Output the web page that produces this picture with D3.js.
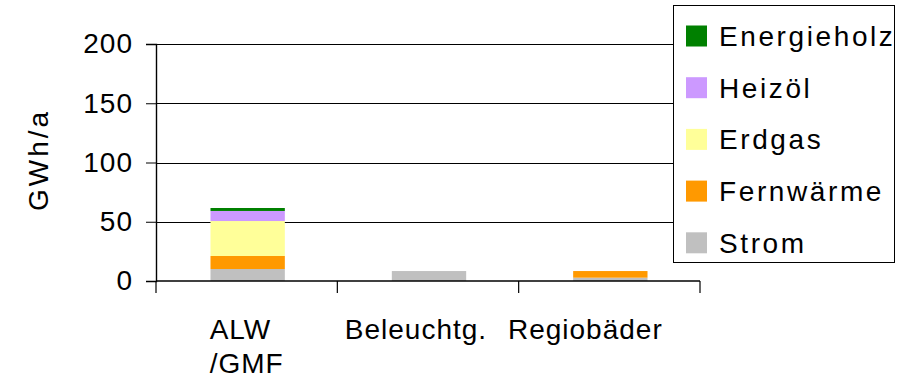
<!DOCTYPE html>
<html>
<head>
<meta charset="utf-8">
<script src="https://cdn.jsdelivr.net/npm/d3@7"></script>
<style>
  html, body { margin: 0; padding: 0; background: #fff; }
  svg { display: block; font-family: "Liberation Sans", Arial, sans-serif; }
</style>
</head>
<body>
<svg id="chart" width="902" height="382"></svg>
<script>
// Energy use by consumer group (GWh per year)
const categories = [["ALW", "/GMF"], ["Beleuchtg."], ["Regiobäder"]];
const seriesNames = ["Strom", "Fernwärme", "Erdgas", "Heizöl", "Energieholz"];
const strom       = [10.1, 8.4, 2.8];
const fernwaerme  = [11.0, 0, 5.6];
const erdgas      = [29.5, 0, 0];
const heizoel     = [8.5, 0, 0];
const energieholz = [2.5, 0, 0];
const yTicks = [0, 50, 100, 150, 200];
const colors = ["#C0C0C0", "#FF9900", "#FFFF99", "#CC99FF", "#008000"];

const rows = categories.map((c, i) => ({
  key: c.join(" "),
  lines: c,
  Strom: strom[i],
  "Fernwärme": fernwaerme[i],
  Erdgas: erdgas[i],
  "Heizöl": heizoel[i],
  Energieholz: energieholz[i]
}));

const svg = d3.select("#chart");
const plotLeft = 156, plotRight = 700, plotTop = 44, plotBottom = 281;
const fontSize = 28;

const x = d3.scaleBand().domain(rows.map(d => d.key)).range([plotLeft, plotRight]).paddingInner(0).paddingOuter(0);
const y = d3.scaleLinear().domain([0, 200]).range([plotBottom, plotTop]);
const color = d3.scaleOrdinal().domain(seriesNames).range(colors);

// horizontal gridlines
svg.append("g").selectAll("line").data(yTicks.filter(t => t > 0)).join("line")
  .attr("x1", plotLeft).attr("x2", plotRight)
  .attr("y1", d => Math.round(y(d)) + 0.5).attr("y2", d => Math.round(y(d)) + 0.5)
  .attr("stroke", "#000").attr("stroke-width", 1);

// stacked bars
const stacked = d3.stack().keys(seriesNames)(rows);
const barW = x.bandwidth() * 0.41;
svg.append("g").selectAll("g").data(stacked).join("g")
  .attr("fill", d => color(d.key))
  .selectAll("rect").data(d => d).join("rect")
  .attr("x", d => x(d.data.key) + (x.bandwidth() - barW) / 2 + 1)
  .attr("width", barW)
  .attr("y", d => y(d[1]))
  .attr("height", d => y(d[0]) - y(d[1]));

// y axis
const yAxis = d3.axisLeft(y).tickValues(yTicks).tickSize(10).tickPadding(13);
const gy = svg.append("g").attr("transform", `translate(${plotLeft},0)`).call(yAxis);
gy.select(".domain").attr("stroke", "#000").attr("stroke-width", 1.4);
gy.selectAll(".tick line").attr("stroke", "#000");
gy.selectAll(".tick text").attr("font-size", fontSize).attr("fill", "#000")
  .attr("letter-spacing", 1)
  .attr("font-family", "Liberation Sans, Arial, sans-serif");

// x axis with ticks at category boundaries
svg.append("line").attr("x1", plotLeft).attr("x2", plotRight)
  .attr("y1", plotBottom).attr("y2", plotBottom).attr("stroke", "#000").attr("stroke-width", 1.6);
const bounds = x.domain().map(k => x(k)).concat([plotRight]);
svg.append("g").selectAll("line").data(bounds).join("line")
  .attr("x1", d => d).attr("x2", d => d)
  .attr("y1", plotBottom).attr("y2", plotBottom + 12)
  .attr("stroke", "#000").attr("stroke-width", 1.2);

// category labels: left-aligned line block, laid out left to right with
// a fixed gap once a label would crowd its neighbour
const lab = svg.append("g").attr("font-size", fontSize).attr("fill", "#000")
  .attr("letter-spacing", 1);
rows.forEach((r, idx) => {
  const g = lab.append("g");
  const texts = r.lines.map((ln, i) => g.append("text").attr("y", 339 + i * 34).text(ln));
  const w = d3.max(texts, t => t.node().getComputedTextLength());
  const x0 = x(r.key) + x.bandwidth() / 2 - w / 2 - idx * 12;
  texts.forEach(t => t.attr("x", x0));
});

// y axis title
svg.append("text")
  .attr("transform", "translate(48,160) rotate(-90)")
  .attr("text-anchor", "middle").attr("font-size", fontSize).attr("fill", "#000")
  .attr("letter-spacing", 3)
  .text("GWh/a");

// legend
const lg = svg.append("g");
lg.append("rect").attr("x", 673.5).attr("y", 5.5).attr("width", 221).attr("height", 257)
  .attr("fill", "#fff").attr("stroke", "#000").attr("stroke-width", 1);
const legendOrder = seriesNames.slice().reverse();
const items = lg.selectAll("g").data(legendOrder).join("g")
  .attr("transform", (d, i) => `translate(686,${36 + i * 51.7})`);
items.append("rect").attr("x", 0).attr("y", -10.5).attr("width", 21).attr("height", 21)
  .attr("fill", d => color(d));
items.append("text").attr("x", 33).attr("y", 10).attr("font-size", fontSize).attr("fill", "#000")
  .attr("letter-spacing", 2.6)
  .text(d => d);
</script>
</body>
</html>
